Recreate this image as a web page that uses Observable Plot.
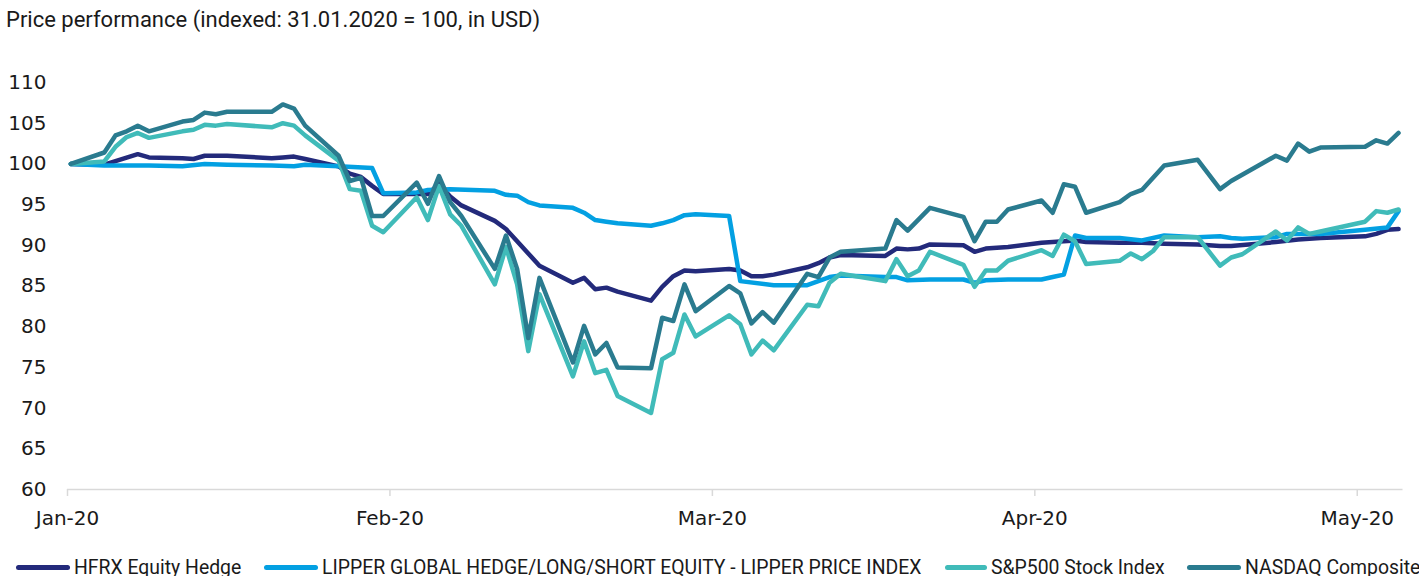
<!DOCTYPE html>
<html><head><meta charset="utf-8">
<script src="https://cdn.jsdelivr.net/npm/d3@7"></script>
<script src="https://cdn.jsdelivr.net/npm/@observablehq/plot@0.6"></script>
<style>
body{margin:0;background:#fff;width:1419px;height:576px;overflow:hidden;position:relative;font-family:Roboto,sans-serif;color:#1a1a1a}
#title{position:absolute;left:6px;top:7px;font-size:22px;white-space:nowrap}
#chart{position:absolute;left:0;top:40px}
.item{position:absolute;top:556px;height:22px;display:flex;align-items:center;font-size:19.4px;white-space:nowrap}
.sw{display:inline-block;height:5px;border-radius:3px;margin-right:4px}
</style></head>
<body>
<div id="title">Price performance (indexed: 31.01.2020 = 100, in USD)</div>
<div id="chart"></div>
<div id="legend"></div>
<script>
// x = calendar days since 31.01.2020
const seriesNames = ["HFRX Equity Hedge","LIPPER GLOBAL HEDGE/LONG/SHORT EQUITY - LIPPER PRICE INDEX","S&P500  Stock Index","NASDAQ Composite"];
const seriesColors = ["#232a7b","#03a0e2","#40bbb9","#2a7b8f"];

const hfrxDays   = [0,3,6,7,10,11,12,13,14,18,19,20,21,24,25,26,27,28,31,32,33,34,35,38,39,40,41,42,45,46,47,48,49,52,53,54,55,56,59,60,61,62,63,66,67,68,69,73,74,75,76,77,80,81,82,83,84,87,88,89,90,91,94,95,96,98,101,103,104,108,110,112,116,117,118,119];
const hfrxValues = [100,99.9,101.2,100.8,100.7,100.6,101.0,101.0,101.0,100.7,100.8,100.9,100.6,99.7,98.8,98.4,97.3,96.3,96.3,96.3,97.5,96.0,94.9,93.0,92.0,90.5,89.0,87.5,85.4,86.0,84.6,84.8,84.3,83.2,84.9,86.2,86.9,86.8,87.1,86.9,86.2,86.2,86.4,87.3,87.8,88.5,88.8,88.7,89.6,89.5,89.6,90.1,90.0,89.2,89.6,89.7,89.8,90.3,90.4,90.5,90.6,90.4,90.3,90.3,90.3,90.2,90.1,89.9,89.9,90.4,90.7,90.9,91.1,91.4,91.9,92.0];

const lipperDays   = [0,3,7,10,12,14,18,20,21,24,27,28,31,32,34,38,39,40,41,42,45,46,47,48,49,52,53,54,55,56,59,60,63,66,67,68,69,73,74,75,77,80,81,82,84,87,88,89,90,91,94,96,98,101,103,104,105,108,109,112,116,118,119];
const lipperValues = [100,99.8,99.8,99.7,100.0,99.9,99.8,99.7,99.9,99.7,99.5,96.4,96.5,96.8,96.9,96.7,96.2,96.1,95.3,94.9,94.6,94.0,93.1,92.9,92.7,92.4,92.7,93.1,93.7,93.8,93.6,85.6,85.1,85.1,85.6,86.1,86.3,86.1,86.1,85.7,85.8,85.8,85.4,85.7,85.8,85.8,86.1,86.4,91.2,90.9,90.9,90.6,91.2,91.0,91.1,90.9,90.8,91.0,91.4,91.4,91.9,92.2,94.2];

const spxDays   = [0,3,4,5,6,7,10,11,12,13,14,18,19,20,21,24,25,26,27,28,31,32,33,34,35,38,39,40,41,42,45,46,47,48,49,52,53,54,55,56,59,60,61,62,63,66,67,68,69,73,74,75,76,77,80,81,82,83,84,87,88,89,90,91,94,95,96,97,98,101,103,104,105,108,109,110,111,112,116,117,118,119];
const spxValues = [100,100.3,102.1,103.3,103.8,103.2,104.0,104.2,104.8,104.7,104.9,104.5,105.0,104.7,103.5,100.4,96.9,96.7,92.4,91.6,95.9,93.1,97.3,93.8,92.4,85.2,89.8,85.2,77.0,84.0,73.9,78.2,74.3,74.7,71.5,69.4,76.0,76.8,81.5,78.8,81.4,80.3,76.6,78.3,77.1,82.7,82.5,85.4,86.5,85.6,88.3,86.2,86.9,89.2,87.6,84.9,86.9,86.9,88.1,89.4,88.7,91.3,90.5,87.7,88.1,89.0,88.3,89.3,91.0,91.0,87.5,88.5,88.9,91.7,90.6,92.2,91.4,91.7,92.9,94.2,94.0,94.4];

const nasdaqDays   = [0,3,4,5,6,7,10,11,12,13,14,18,19,20,21,24,25,26,27,28,31,32,33,34,35,38,39,40,41,42,45,46,47,48,49,52,53,54,55,56,59,60,61,62,63,66,67,68,69,73,74,75,77,80,81,82,83,84,87,88,89,90,91,94,95,96,98,101,103,104,108,109,110,111,112,116,117,118,119];
const nasdaqValues = [100,101.4,103.5,104.0,104.7,104.0,105.2,105.4,106.3,106.1,106.4,106.4,107.3,106.8,104.7,101.0,97.9,98.3,93.6,93.6,97.7,95.1,98.5,95.3,93.6,87.1,91.2,87.1,78.6,86.0,75.6,80.1,76.6,78.0,75.0,74.9,81.1,80.7,85.2,81.9,85.0,84.1,80.4,81.8,80.5,86.5,86.1,88.5,89.2,89.6,93.1,91.8,94.6,93.5,90.5,92.9,92.9,94.4,95.5,94.0,97.5,97.2,94.0,95.3,96.3,96.8,99.8,100.5,96.9,97.9,101.0,100.4,102.5,101.5,102.0,102.1,102.9,102.5,103.8];

const yTicks = [60,65,70,75,80,85,90,95,100,105,110];
const xTickDays = [-0.3,28.6,57.5,86.4,115.3];
const xTickLabels = ["Jan-20","Feb-20","Mar-20","Apr-20","May-20"];

const allDays = [hfrxDays,lipperDays,spxDays,nasdaqDays];
const allValues = [hfrxValues,lipperValues,spxValues,nasdaqValues];
const rows = seriesNames.flatMap((name,k)=>allDays[k].map((d,i)=>({series:name, day:d, value:allValues[k][i]})));
const labelOf = new Map(xTickDays.map((d,i)=>[d,xTickLabels[i]]));

const chart = Plot.plot({
  width:1419, height:500,
  marginTop:42, marginBottom:51, marginLeft:67, marginRight:16.5,
  style:{fontFamily:"'DejaVu Sans', sans-serif", fontSize:"20px", color:"#1a1a1a", background:"#fff"},
  x:{domain:[-0.3,119.4]},
  y:{domain:[60,110]},
  color:{domain:seriesNames, range:seriesColors},
  marks:[
    Plot.axisY({ticks:yTicks, tickSize:0, tickPadding:21, label:null, fill:"#1a1a1a"}),
    Plot.ruleY([60],{stroke:"#d9d9d9", strokeWidth:1.5}),
    Plot.axisX({ticks:xTickDays, tickFormat:d=>labelOf.get(d), tickSize:7, tickPadding:14, label:null, stroke:"#d9d9d9", fill:"#1a1a1a", strokeWidth:1.5}),
    Plot.line(rows,{x:"day", y:"value", z:"series", stroke:"series", strokeWidth:4.5, strokeLinejoin:"round", strokeLinecap:"round"})
  ]
});
document.getElementById("chart").appendChild(chart);

const legendLeft = [16,264,945,1187];
const swatchW = [54,54,42,54];
const legend = document.getElementById("legend");
seriesNames.forEach((n,i)=>{
  const it = document.createElement("div");
  it.className="item"; it.style.left=legendLeft[i]+"px";
  const sw = document.createElement("span"); sw.className="sw"; sw.style.width=swatchW[i]+"px"; sw.style.background=seriesColors[i];
  const tx = document.createElement("span"); tx.textContent=n;
  it.appendChild(sw); it.appendChild(tx); legend.appendChild(it);
});
</script>
</body></html>
